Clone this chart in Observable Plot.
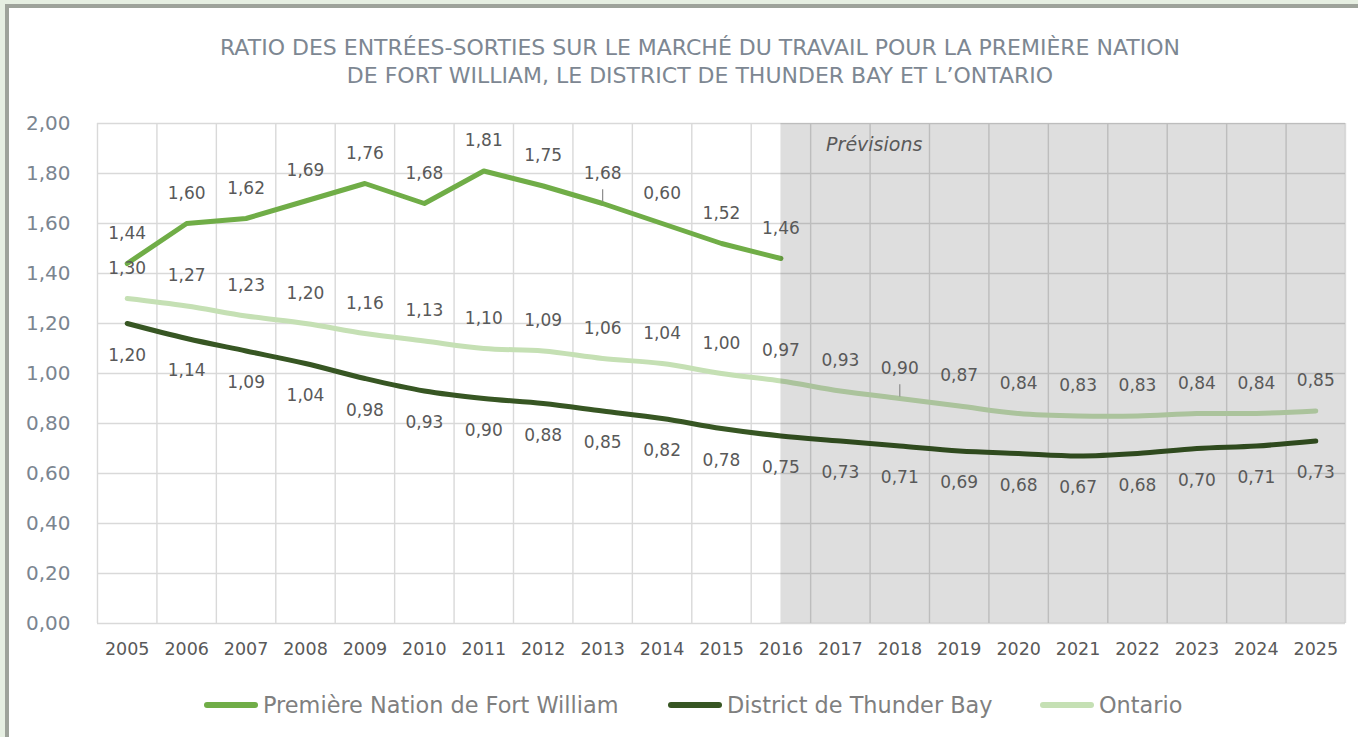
<!DOCTYPE html>
<html><head><meta charset="utf-8">
<script src="https://cdn.jsdelivr.net/npm/d3@7"></script>
<script src="https://cdn.jsdelivr.net/npm/@observablehq/plot@0.6"></script>
<style>
html,body{margin:0;padding:0;}
body{width:1358px;height:737px;background:#e6efe2;position:relative;overflow:hidden;font-family:"DejaVu Sans",sans-serif;}
#frame{position:absolute;left:5px;top:4px;right:0;bottom:0;background:#fff;border-left:4px solid #9ea39b;border-top:4px solid #9ea39b;}
#title{position:absolute;left:0;width:1400px;top:34px;text-align:center;font-size:22px;line-height:28px;color:#7d8792;}
#chart{position:absolute;left:0;top:0;}
.li{position:absolute;top:692px;display:flex;align-items:center;font-size:22.4px;color:#7f7f7f;white-space:nowrap;}
.sw{width:54px;height:6px;border-radius:3px;margin-right:5px;}
</style>
</head><body>
<div id="frame"></div>
<div id="title">RATIO DES ENTRÉES-SORTIES SUR LE MARCHÉ DU TRAVAIL POUR LA PREMIÈRE NATION<br>DE FORT WILLIAM, LE DISTRICT DE THUNDER BAY ET L’ONTARIO</div>
<div id="chart"></div>
<div id="legend"></div>
<script>
const years = [2005,2006,2007,2008,2009,2010,2011,2012,2013,2014,2015,2016,2017,2018,2019,2020,2021,2022,2023,2024,2025];
const fwfnYears = [2005,2006,2007,2008,2009,2010,2011,2012,2013,2014,2015,2016];
const fwfn = [1.44,1.60,1.62,1.69,1.76,1.68,1.81,1.75,1.68,1.60,1.52,1.46];
const fwfnLabels = ["1,44","1,60","1,62","1,69","1,76","1,68","1,81","1,75","1,68","0,60","1,52","1,46"];
const thunderBay = [1.20,1.14,1.09,1.04,0.98,0.93,0.90,0.88,0.85,0.82,0.78,0.75,0.73,0.71,0.69,0.68,0.67,0.68,0.70,0.71,0.73];
const ontario = [1.30,1.27,1.23,1.20,1.16,1.13,1.10,1.09,1.06,1.04,1.00,0.97,0.93,0.90,0.87,0.84,0.83,0.83,0.84,0.84,0.85];
const yTicks = [0,0.2,0.4,0.6,0.8,1.0,1.2,1.4,1.6,1.8,2.0];
const seriesNames = ["Première Nation de Fort William","District de Thunder Bay","Ontario"];
const seriesColors = ["#70ad47","#375623","#c5e0b4"];
const forecastStart = 2016;
const forecastLabel = "Prévisions";
const leaderFwfn = [2013];
const leaderOntario = [2018];

const fmt = v => d3.format(".2f")(v).replace(".", ",");
const fwRows = fwfnYears.map((yr,i)=>({year:yr, value:fwfn[i], label:fwfnLabels[i]}));
const tbRows = years.map((yr,i)=>({year:yr, value:thunderBay[i], label:fmt(thunderBay[i])}));
const onRows = years.map((yr,i)=>({year:yr, value:ontario[i], label:fmt(ontario[i])}));
const xMin = years[0]-0.5, xMax = years[years.length-1]+0.5;
const bounds = years.map(y=>y-0.5).concat([xMax]);
const leaders = [
  ...fwRows.filter(d=>leaderFwfn.includes(d.year)),
  ...onRows.filter(d=>leaderOntario.includes(d.year))
];
const labelColor = "#595959";

const chart = Plot.plot({
  width: 1358, height: 680,
  marginLeft: 97, marginRight: 13, marginTop: 123, marginBottom: 57,
  x: {domain: [xMin, xMax], label: null},
  y: {domain: [0, 2], label: null},
  style: {fontFamily: '"DejaVu Sans", sans-serif', background: "transparent", overflow: "visible"},
  marks: [
    Plot.ruleY(yTicks, {stroke: "#d9d9d9", strokeWidth: 1.4}),
    Plot.ruleX(bounds, {stroke: "#d9d9d9", strokeWidth: 1.4}),
    Plot.line(onRows, {x: "year", y: "value", stroke: seriesColors[2], strokeWidth: 5, curve: "catmull-rom", strokeLinecap: "round"}),
    Plot.line(tbRows, {x: "year", y: "value", stroke: seriesColors[1], strokeWidth: 5, curve: "catmull-rom", strokeLinecap: "round"}),
    Plot.line(fwRows, {x: "year", y: "value", stroke: seriesColors[0], strokeWidth: 5, strokeLinecap: "round", strokeLinejoin: "round"}),
    Plot.rect([{}], {x1: forecastStart, x2: xMax, y1: 0, y2: 2, fill: "#000", fillOpacity: 0.13}),
    Plot.ruleX(leaders, {x: "year", y1: d=>d.value+0.006, y2: d=>d.value+0.055, stroke: "#8c8c8c", strokeWidth: 1.2}),
    Plot.text(fwRows, {x: "year", y: "value", text: "label", dy: -30, fontSize: 17, fill: labelColor}),
    Plot.text(onRows, {x: "year", y: "value", text: "label", dy: -30, fontSize: 17, fill: labelColor}),
    Plot.text(tbRows, {x: "year", y: "value", text: "label", dy: 32, fontSize: 17, fill: labelColor}),
    Plot.text([forecastLabel], {x: 2017.57, y: 1.916, text: d=>d, fontSize: 19, fontStyle: "italic", fill: labelColor}),
    Plot.axisY(yTicks, {tickSize: 0, tickPadding: 27, tickFormat: fmt, fontSize: 20, color: "#7b8590", fill: "#7b8590", label: null}),
    Plot.axisX(years, {tickSize: 0, tickPadding: 19, tickFormat: d=>String(d), fontSize: 17.5, color: labelColor, fill: labelColor, label: null})
  ]
});
document.getElementById("chart").appendChild(chart);

const legendLefts = [204, 668, 1040];
const legend = document.getElementById("legend");
seriesNames.forEach((name,i)=>{
  const item = document.createElement("div");
  item.className = "li";
  item.style.left = legendLefts[i] + "px";
  const sw = document.createElement("div");
  sw.className = "sw"; sw.style.background = seriesColors[i];
  const t = document.createElement("span"); t.textContent = name;
  item.appendChild(sw); item.appendChild(t);
  legend.appendChild(item);
});
</script>
</body></html>
